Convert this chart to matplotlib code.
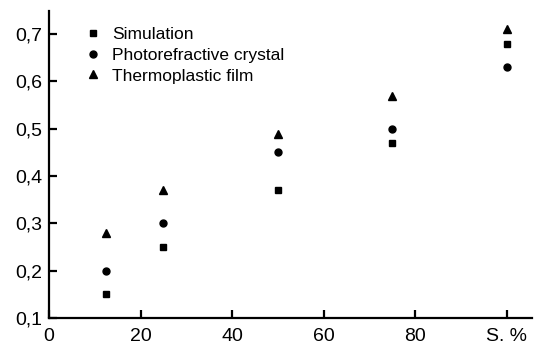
import numpy as np
import matplotlib
matplotlib.use("Agg")
import matplotlib.pyplot as plt

plt.rcParams['font.family'] = ['Liberation Sans', 'DejaVu Sans']

S = [12.5, 25, 50, 75, 100]
simulation = [0.15, 0.25, 0.37, 0.47, 0.68]
crystal = [0.20, 0.30, 0.45, 0.50, 0.63]
film = [0.28, 0.37, 0.49, 0.57, 0.71]

xticks = [0, 20, 40, 60, 80, 100]
xlabels = ['0', '20', '40', '60', '80', 'S, %']
yticks = [0.1, 0.2, 0.3, 0.4, 0.5, 0.6, 0.7]
ylabels = ['0,1', '0,2', '0,3', '0,4', '0,5', '0,6', '0,7']

fig = plt.figure(figsize=(5.37, 3.41), dpi=100)
ax = fig.add_axes([49/537, 23/341, 483/537, 307/341])

ax.plot(S, simulation, 's', color='black', ms=4.5, label='Simulation')
ax.plot(S, crystal, 'o', color='black', ms=5, label='Photorefractive crystal')
ax.plot(S, film, '^', color='black', ms=5.5, label='Thermoplastic film')

ax.set_xlim(0, 105.5)
ax.set_ylim(0.1, 0.749)
ax.set_xticks(xticks)
ax.set_xticklabels(xlabels)
ax.set_yticks(yticks)
ax.set_yticklabels(ylabels)

for s in ['top', 'right']:
    ax.spines[s].set_visible(False)
for s in ['left', 'bottom']:
    ax.spines[s].set_linewidth(1.6)
ax.tick_params(direction='in', length=6, width=1.6, labelsize=14)
ax.tick_params(axis='x', pad=7)
ax.tick_params(axis='y', pad=5)

ax.legend(loc='upper left', bbox_to_anchor=(0.037, 1.0), frameon=False,
          fontsize=12.5, handletextpad=0.5, labelspacing=0.33, handlelength=1.2)

plt.savefig("out.png", dpi=100)
